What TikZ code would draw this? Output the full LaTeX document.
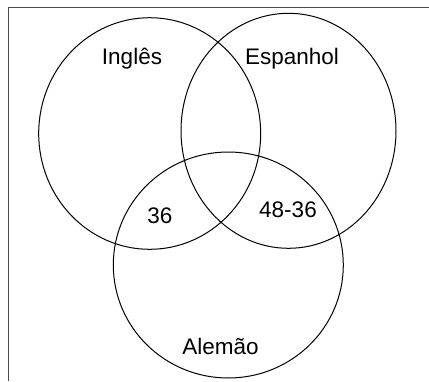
\documentclass[tikz,border=0pt]{standalone}
\usepackage{fontspec}
\setmainfont{Liberation Sans}
\begin{document}
\begin{tikzpicture}[x=1pt,y=-1pt,
  setline/.style={draw=black, line width=1pt},
  frameline/.style={draw=black!70, line width=1.8pt},
  lbl/.style={font=\fontsize{22.5}{27}\selectfont, inner sep=0pt, anchor=base, text=black}]
\useasboundingbox (0,0) rectangle (429,381);
\draw[frameline] (429,7.5) -- (8.5,7.5) -- (8.5,381);
\draw[setline] (149.7,133.5) ellipse [x radius=111, y radius=115.8];
\draw[setline] (288.5,130.8) ellipse [x radius=107.5, y radius=117.5];
\draw[setline] (228.3,265) ellipse [x radius=115, y radius=113];
\node[lbl] (ingles) at (132,64) {Inglês};
\node[lbl] (espanhol) at (292,64) {Espanhol};
\node[lbl] (ia) at (160,223) {36};
\node[lbl] (ea) at (288,217) {48-36};
\node[lbl] (alemao) at (220.5,354) {Alemão};
\end{tikzpicture}
\end{document}
